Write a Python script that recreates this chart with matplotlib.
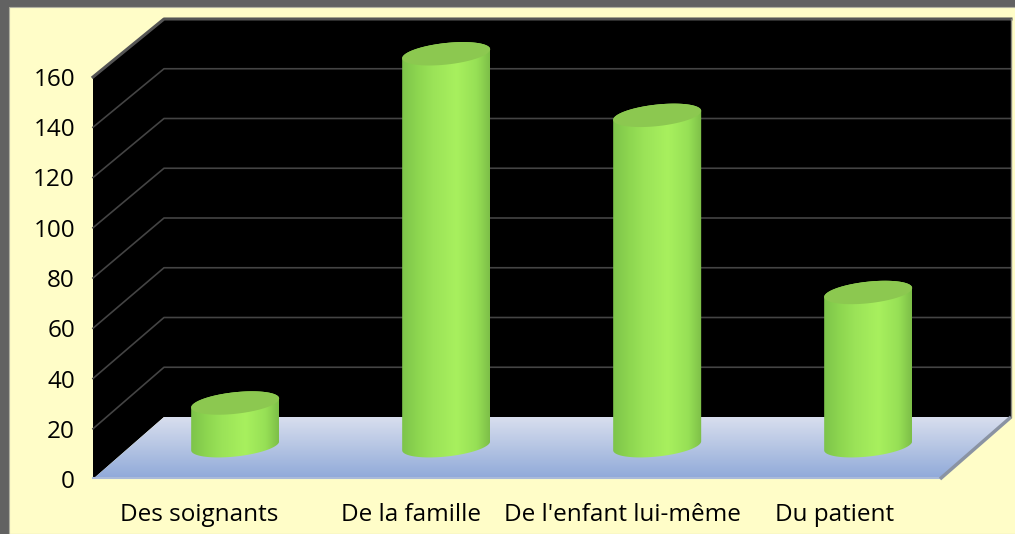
import numpy as np
import matplotlib
matplotlib.use("Agg")
import matplotlib.pyplot as plt
from matplotlib.colors import LinearSegmentedColormap
from matplotlib.patches import Polygon, Rectangle

categories = ["Des soignants", "De la famille", "De l'enfant lui-même", "Du patient"]
values = [17, 156, 131.5, 61]
y_ticks = [0, 20, 40, 60, 80, 100, 120, 140, 160]

plt.rcParams['font.family'] = ['Open Sans', 'DejaVu Sans']
W, H = 1015, 534
fig = plt.figure(figsize=(W / 100, H / 100), dpi=100, facecolor='#626262')
fig.patches.append(Rectangle((9 / W, 0), 1.0, (H - 7) / H, transform=fig.transFigure,
                             facecolor='#FFFDC8', edgecolor='#B0B0A0', linewidth=0.8, zorder=-5))
ax = fig.add_axes([93 / W, (H - 479) / H, 847 / W, 402 / H], zorder=5)
ax.patch.set_visible(False)
for s in ax.spines.values():
    s.set_visible(False)
ax.set_xlim(-0.5, 3.5)
ax.set_ylim(0, 160)

# depth projection, in data units
PX_X = 4 / 847
PX_Y = 160 / 402
DX = 71 * PX_X
DY = 62 * PX_Y
BACK = 398 / 402


def back(x, v):
    return x + DX, v * BACK + DY


# back wall and left wall
x0, x1 = -0.5, 3.5
top = 160
wall = [(x0, 0), (x0, top), back(x0, top), back(x1, top), back(x1, 0), back(x0, 0)]
ax.add_patch(Polygon(wall, closed=True, fc='black', ec='none', clip_on=False, zorder=1))

# floor with gradient
floor = Polygon([(x0, 0), (x1, 0), back(x1, 0), back(x0, 0)], closed=True,
                transform=ax.transData, fc='none', ec='none', clip_on=False)
ax.add_patch(floor)
floor_cm = LinearSegmentedColormap.from_list('floor', ['#8FA9D9', '#B4C4E3', '#D8DEEE'])
im = ax.imshow(np.linspace(0, 1, 128)[:, None], cmap=floor_cm, origin='lower', aspect='auto',
               extent=(x0, back(x1, 0)[0], 0, back(x0, 0)[1]), zorder=1.5)
im.set_clip_box(fig.bbox)
im.set_clip_path(floor)
ax.plot([x0, x1], [0.3, 0.3], color='#A9BAD9', lw=1.5, zorder=1.6, clip_on=False)
ax.plot([x1, back(x1, 0)[0]], [0, back(x1, 0)[1]], color='#8A93A3', lw=2.5, zorder=1.6,
        clip_on=False, solid_capstyle='butt')

# gridlines
for v in y_ticks[1:]:
    bx, by = back(x0, v)
    ex, ey = back(x1, v)
    lc = '#444444' if v < 160 else '#555555'
    ax.plot([x0, bx, ex], [v, by, ey], color=lc, lw=1.2 if v < 160 else 2.2, zorder=2, clip_on=False)
ax.plot([back(x1, 0)[0]] * 2, [back(x1, 0)[1], back(x1, top)[1]], color='#8A8A80', lw=1,
        zorder=2, clip_on=False)

# cylinders
bar_cm = LinearSegmentedColormap.from_list('bar', [(0, '#7DC44A'), (0.18, '#8DD650'), (0.35, '#9BE358'),
                                                   (0.62, '#A8F05E'), (0.85, '#97E056'), (1, '#7DBF48')])
a = 44 * PX_X
b = 10.8 * PX_Y
k = 4.5 * PX_Y
ang = np.linspace(0, 2 * np.pi, 181)
for i, val in enumerate(values):
    cx = i * (211 / 211.75) + DX / 2 + 0.8 * PX_X
    base = DY / 2 + 0.9
    cy = val + base
    # silhouette: upper half of top ellipse, lower half of base ellipse
    t_up = np.linspace(0, np.pi, 90)
    t_lo = np.linspace(np.pi, 2 * np.pi, 90)
    xs = np.r_[cx + a * np.cos(t_up), cx + a * np.cos(t_lo)]
    ys = np.r_[cy + b * np.sin(t_up) + k * np.cos(t_up), base + b * np.sin(t_lo) + k * np.cos(t_lo)]
    body = Polygon(np.c_[xs, ys], closed=True, fc='none', ec='none', clip_on=False)
    ax.add_patch(body)
    g = ax.imshow(np.linspace(0, 1, 128)[None, :], cmap=bar_cm, aspect='auto', origin='lower',
                  extent=(cx - a, cx + a, base - 12, cy + 12), zorder=3 + i * 0.1)
    g.set_clip_box(fig.bbox)
    g.set_clip_path(body)
    ax.add_patch(Polygon(np.c_[cx + a * np.cos(ang), cy + b * np.sin(ang) + k * np.cos(ang)],
                         closed=True, fc='#8CC850', ec='none', clip_on=False, zorder=3.05 + i * 0.1))

ax.set_xlim(-0.5, 3.5)
ax.set_ylim(0, 160)
ax.set_xticks(range(len(categories)), categories)
ax.set_yticks(y_ticks)
ax.tick_params(axis='both', length=0, labelcolor='black')
ax.tick_params(axis='x', pad=17, labelsize=17.5)
ax.tick_params(axis='y', pad=13, labelsize=17.5)
fig.savefig('out.png', dpi=100, facecolor=fig.get_facecolor())
